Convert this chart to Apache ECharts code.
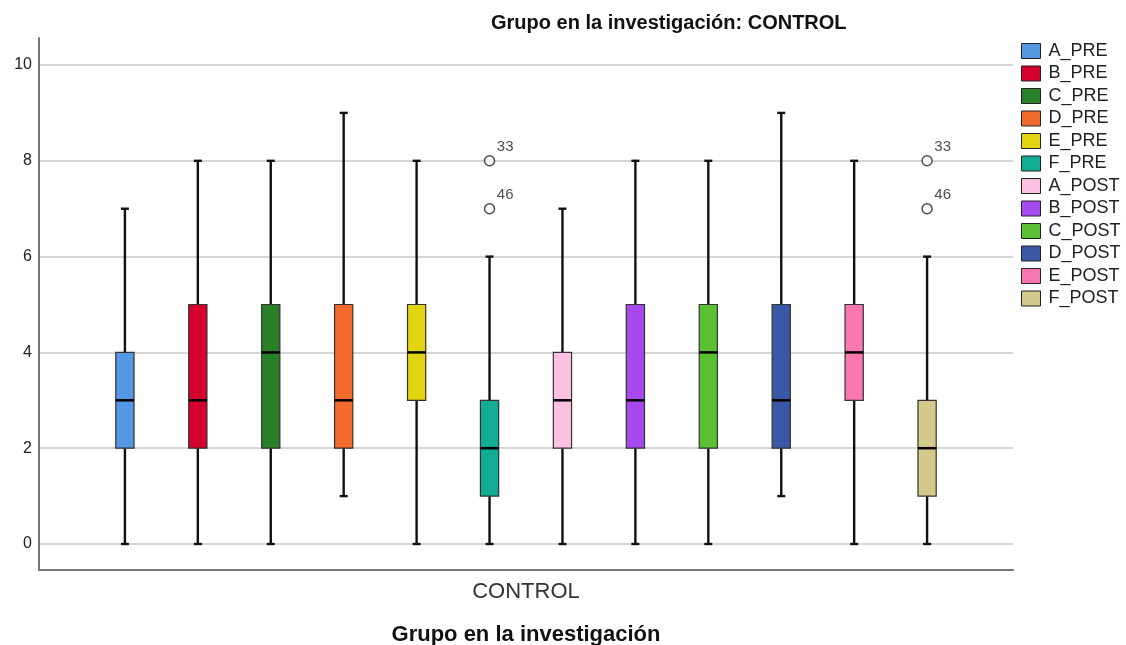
<!DOCTYPE html>
<html><head><meta charset="utf-8">
<script src="https://cdn.jsdelivr.net/npm/echarts@6/dist/echarts.min.js"></script>
<style>html,body{margin:0;padding:0;background:#fff}#c{width:1126px;height:645px}</style>
</head><body><div id="c"></div>
<script>
const seriesNames = ['A_PRE','B_PRE','C_PRE','D_PRE','E_PRE','F_PRE','A_POST','B_POST','C_POST','D_POST','E_POST','F_POST'];
const colors = ['#5497e3','#d4002e','#2a8028','#f26a2c','#e2d40e','#10ac94','#fcc0e0','#a64af0','#5cc035','#3a58a6','#fa78b0','#d2c98a'];
// [min, Q1, median, Q3, max]
const boxStats = [
  [0,2,3,4,7],
  [0,2,3,5,8],
  [0,2,4,5,8],
  [1,2,3,5,9],
  [0,3,4,5,8],
  [0,1,2,3,6],
  [0,2,3,4,7],
  [0,2,3,5,8],
  [0,2,4,5,8],
  [1,2,3,5,9],
  [0,3,4,5,8],
  [0,1,2,3,6]
];
// outliers: [boxIndex, value, case label]
const outliers = [
  [5,8,'33'],[5,7,'46'],
  [11,8,'33'],[11,7,'46']
];
const categories = ['CONTROL'];
const yTicks = [0,2,4,6,8,10];

const chart = echarts.init(document.getElementById('c'));

function renderBox(params, api) {
  const x = api.value(0);
  const pts = [1,2,3,4,5].map(i => api.coord([x, api.value(i)]));
  const cx = pts[0][0];
  const unit = api.size([1,0])[0];
  const hw = unit * 0.125;
  const cap = unit * 0.055;
  const col = api.visual('color');
  const yMin = pts[0][1], yQ1 = pts[1][1], yMed = pts[2][1], yQ3 = pts[3][1], yMax = pts[4][1];
  const wStyle = {stroke:'#111', lineWidth:2.4};
  return {
    type:'group',
    children:[
      {type:'line', shape:{x1:cx,y1:yMax,x2:cx,y2:yQ3}, style:wStyle},
      {type:'line', shape:{x1:cx,y1:yQ1,x2:cx,y2:yMin}, style:wStyle},
      {type:'line', shape:{x1:cx-cap,y1:yMax,x2:cx+cap,y2:yMax}, style:wStyle},
      {type:'line', shape:{x1:cx-cap,y1:yMin,x2:cx+cap,y2:yMin}, style:wStyle},
      {type:'rect', shape:{x:cx-hw,y:yQ3,width:hw*2,height:yQ1-yQ3}, style:{fill:col, stroke:'#333', lineWidth:1.2}},
      {type:'line', shape:{x1:cx-hw,y1:yMed,x2:cx+hw,y2:yMed}, style:{stroke:'#000', lineWidth:2.5}}
    ]
  };
}

const series = seriesNames.map((name, i) => ({
  name: name,
  type: 'custom',
  xAxisIndex: 1,
  yAxisIndex: 1,
  renderItem: renderBox,
  itemStyle: {color: colors[i], borderColor:'#222', borderWidth:1},
  encode: {x:0, y:[1,2,3,4,5]},
  data: [[i].concat(boxStats[i])],
  z: 3
}));

series.push({
  name: 'outliers',
  type: 'scatter',
  xAxisIndex: 1,
  yAxisIndex: 1,
  symbol: 'circle',
  symbolSize: 10,
  itemStyle: {color:'#fff', borderColor:'#222', borderWidth:1.5},
  label: {show:true, formatter: p => p.data[2], position:[13,-16], fontSize:15, color:'#222', fontFamily:'Liberation Sans'},
  data: outliers.map(o => [o[0], o[1], o[2]]),
  z: 4
});

chart.setOption({
  animation:false,
  backgroundColor:'#fff',
  title:{
    text:'Grupo en la investigación: CONTROL',
    left:486, top:8,
    textStyle:{fontFamily:'Liberation Sans', fontSize:20, fontWeight:'bold', color:'#111'}
  },
  legend:{
    data: seriesNames,
    orient:'vertical',
    left:1016, top:37,
    itemWidth:19, itemHeight:15, itemGap:4.5,
    icon:'rect',
    itemStyle:{borderColor:'#222', borderWidth:1},
    textStyle:{fontFamily:'Liberation Sans', fontSize:18, lineHeight:18, color:'#222', padding:[0,0,0,3]}
  },
  grid:[
    {left:39, right:113, top:38, bottom:75, containLabel:false, outerBoundsMode:'none'},
    {left:39, right:113, top:65, bottom:101, containLabel:false, outerBoundsMode:'none'}
  ],
  xAxis:[
    {type:'category', gridIndex:0, data:categories,
     axisLine:{onZero:false, lineStyle:{color:'#777', width:2}}, axisTick:{show:false},
     axisLabel:{fontFamily:'Liberation Sans', fontSize:22, color:'#333', margin:11},
     name:'Grupo en la investigación', nameLocation:'middle', nameGap:54,
     nameTextStyle:{fontFamily:'Liberation Sans', fontSize:22, fontWeight:'bold', color:'#111'}},
    {type:'value', gridIndex:1, min:-1.178, max:12.178, show:false}
  ],
  yAxis:[
    {type:'value', gridIndex:0, min:-0.55, max:10.56,
     axisLine:{show:true, onZero:false, lineStyle:{color:'#777', width:2}}, axisTick:{show:false},
     axisLabel:{show:false}, splitLine:{show:false}},
    {type:'value', gridIndex:1, min:0, max:10, interval:2,
     axisLine:{show:false}, axisTick:{show:false},
     axisLabel:{fontFamily:'Liberation Sans', fontSize:16, color:'#222', margin:7,
       customValues: yTicks},
     splitLine:{show:true, lineStyle:{color:'#c8c8c8', width:1.5}}}
  ],
  series: series
});
</script></body></html>
